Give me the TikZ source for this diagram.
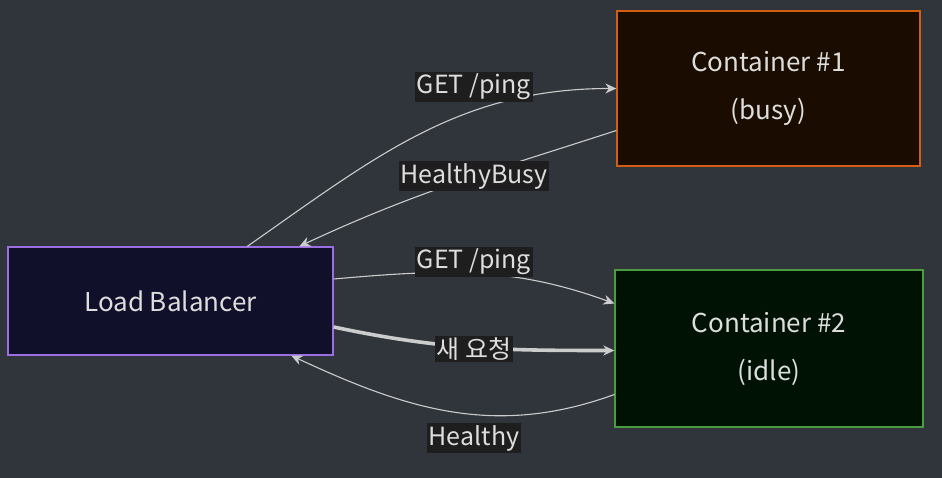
\documentclass[tikz,border=0pt]{standalone}
\usepackage{fontspec}
\setmainfont{Noto Sans CJK KR}
\usetikzlibrary{calc,arrows.meta}
\definecolor{bgc}{HTML}{30353B}
\definecolor{txtc}{HTML}{DDDDDD}
\definecolor{linec}{HTML}{CCCCCC}
\definecolor{lblc}{HTML}{1E1E1E}
\definecolor{lbfill}{HTML}{10102A}
\definecolor{lbdraw}{HTML}{9B6EE1}
\definecolor{cafill}{HTML}{1A0D00}
\definecolor{cadraw}{HTML}{D25F0F}
\definecolor{cbfill}{HTML}{001204}
\definecolor{cbdraw}{HTML}{4B9B41}
\tikzset{
  box/.style={draw,line width=1.3pt,minimum width=#1,align=center,text=txtc,font=\fontsize{26}{48}\selectfont},
  lbl/.style={fill=lblc,text=txtc,inner sep=2pt,font=\fontsize{25}{28}\selectfont},
  flow/.style={draw=linec,line width=1.1pt,-{Stealth[length=11pt,width=10pt]}},
  thick flow/.style={flow,line width=3.6pt,-{Stealth[length=11pt,width=10pt]}}
}
\begin{document}
\begin{tikzpicture}[x=1pt,y=1pt]
  \fill[bgc] (0,0) rectangle (942,478);
  \useasboundingbox (0,0) rectangle (942,478);

  \node[box=325pt,minimum height=108pt,fill=lbfill,draw=lbdraw] (lb) at (170.5,177) {Load Balancer};
  \node[box=303pt,minimum height=155pt,fill=cafill,draw=cadraw] (c1) at (768.5,389.5) {Container \#1\\(busy)};
  \node[box=308pt,minimum height=157pt,fill=cbfill,draw=cbdraw] (c2) at (769,129.5) {Container \#2\\(idle)};

  % requests and answers
  \draw[flow] ($(lb.north west)+(240,0)$) to[out=35,in=180] (c1.west);
  \draw[flow] ($(c1.west)+(0,-42)$) to[out=198,in=25] ($(lb.north west)+(292,0)$);
  \draw[flow] ($(lb.east)+(0,22)$) to[out=5,in=160] ($(c2.west)+(0,45)$);
  \draw[thick flow] ($(lb.east)+(0,-26)$) to[out=-12,in=180] ($(c2.west)+(0,-2)$);
  \draw[flow] ($(c2.west)+(0,-46)$) to[out=200,in=-25] ($(lb.south west)+(284,0)$);

  \node[lbl] (l1) at (474,391) {GET /ping};
  \node[lbl] (l2) at (474,302) {HealthyBusy};
  \node[lbl] (l3) at (474,216) {GET /ping};
  \node[lbl] (l4) at (474,129) {새 요청};
  \node[lbl] (l5) at (474,40) {Healthy};
\end{tikzpicture}
\end{document}
